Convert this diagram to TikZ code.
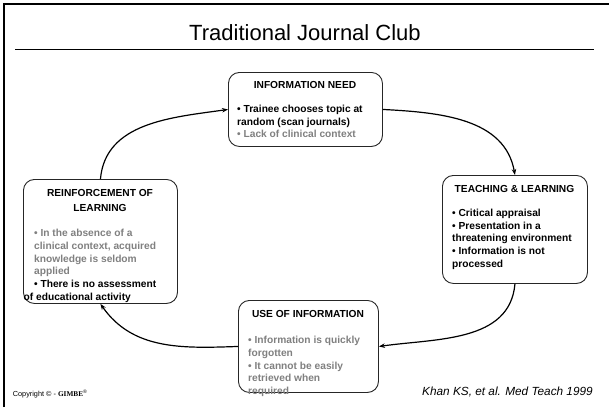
\documentclass[tikz,border=0pt]{standalone}
\usepackage{fontspec}
\setmainfont{Liberation Sans}
\newfontfamily\serifgimbe{Liberation Serif}
\usetikzlibrary{arrows.meta}
\definecolor{txtgray}{RGB}{128,128,128}
\begin{document}
\begin{tikzpicture}[x=1bp,y=1bp,
  box/.style={draw=black!85, line width=0.9bp, rounded corners=11bp, inner sep=0, anchor=north west},
  head/.style={font=\fontsize{10.2bp}{14.5bp}\selectfont\bfseries, inner sep=0, align=center},
  body/.style={font=\fontsize{10.2bp}{12.7bp}\selectfont\bfseries, inner sep=0, align=left, anchor=north west},
  link/.style={line width=1.2bp, -{Stealth[length=6bp,width=4.5bp]}},
]
\useasboundingbox (0,0) rectangle (609,-407);
\fill[white] (0,0) rectangle (609,-407);
\draw[line width=2.4bp] (4,-407) -- (4,-4) -- (609,-4);
\node[font=\fontsize{22bp}{26bp}\selectfont, inner sep=0] (title) at (305,-33) {Traditional Journal Club};
\draw[line width=1bp] (15,-49) -- (594,-49);

% boxes
\node[box, minimum width=154bp, minimum height=74bp] (need) at (228,-72) {};
\node[box, minimum width=154bp, minimum height=124bp] (reinf) at (23,-179) {};
\node[box, minimum width=145bp, minimum height=108bp] (teach) at (442,-175) {};
\node[box, minimum width=140bp, minimum height=92bp] (use) at (238,-300) {};

% texts
\node[head] (needH) at (305,-85) {INFORMATION NEED};
\node[body] (needB) at (237,-105) {• Trainee chooses topic at\\random (scan journals)\\{\color{txtgray}• Lack of clinical context}};

\node[head] (reinfH) at (100,-200.5) {REINFORCEMENT OF\\LEARNING};
\node[body] (reinfB) at (34,-229) {{\color{txtgray}• In the absence of a}\\{\color{txtgray}clinical context, acquired}\\{\color{txtgray}knowledge is seldom}\\{\color{txtgray}applied}\\• There is no assessment\\\hspace*{-10.5bp}of educational activity};

\node[head] (teachH) at (514.5,-189) {TEACHING \& LEARNING};
\node[body] (teachB) at (452,-209) {• Critical appraisal\\• Presentation in a\\threatening environment\\• Information is not\\processed};

\node[head] (useH) at (308,-314) {USE OF INFORMATION};
\node[body, text=txtgray] (useB) at (248,-336) {• Information is quickly\\forgotten\\• It cannot be easily\\retrieved when\\required};

% connectors
\draw[link] (reinf.north) to[out=85,in=188] (need.west);
\draw[link] (need.east) to[out=-3,in=100] (teach.north);
\draw[link] (teach.south) to[out=-95,in=8] (use.east);
\draw[link] (use.west) to[out=182,in=-55] (reinf.south);

% footer
\node[anchor=base west, inner sep=0, font=\fontsize{7.3bp}{9bp}\selectfont] (copy) at (12.7,-396) {Copyright © - {\serifgimbe\bfseries GIMBE}\textsuperscript{®}};
\node[anchor=base west, inner sep=0, font=\fontsize{11.8bp}{14bp}\selectfont\itshape] (cite) at (422,-395) {Khan KS, et al. Med Teach 1999};
\end{tikzpicture}
\end{document}
